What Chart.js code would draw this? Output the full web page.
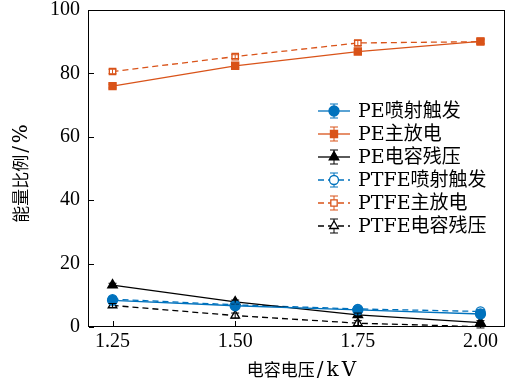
<!DOCTYPE html>
<html>
<head>
<meta charset="utf-8">
<script src="https://cdn.jsdelivr.net/npm/chart.js@4.4.1/dist/chart.umd.min.js"></script>
<style>
  body { margin: 0; background: #fff; }
  #wrap { width: 506px; height: 385px; }
</style>
</head>
<body>
<div id="wrap"><canvas id="grafico" width="506" height="385"></canvas></div>
<script>
// voltages on the x axis
const voltages = [1.25, 1.50, 1.75, 2.00];
const xTicks = [1.25, 1.50, 1.75, 2.00];

// energy shares (%) and their error half-widths
const pePenetracao = [8.4, 6.7, 5.4, 4.1];
const pePenetracaoErr = [0.6, 0.5, 0.5, 0.5];
const peDescarga = [76.0, 82.4, 86.9, 90.1];
const peDescargaErr = [0.6, 0.6, 0.6, 0.8];
const peResidual = [13.2, 7.9, 3.8, 1.4];
const peResidualErr = [0.6, 0.6, 0.6, 0.6];
const ptfePenetracao = [8.8, 7.0, 5.7, 4.9];
const ptfePenetracaoErr = [0.6, 0.5, 0.5, 0.6];
const ptfeDescarga = [80.6, 85.3, 89.6, 90.0];
const ptfeDescargaErr = [0.7, 0.6, 0.8, 0.6];
const ptfeResidual = [6.8, 3.6, 1.2, 0.1];
const ptfeResidualErr = [0.6, 0.8, 0.8, 0.4];

// axis titles: chinese part + unit part
const tituloX = ['电容电压', '/kV'];
const tituloY = ['能量比例', '/%'];

const azul = '#0072BD';
const laranja = '#D95319';
const preto = '#000000';
const fonteSerif = "'Liberation Serif', 'Noto Sans CJK SC', serif";
const fonteLegenda = "'DejaVu Serif', 'Noto Sans CJK SC', serif";

function serie(label, valores, erros, cor, estilo, aberto, raio) {
    return {
        label: label,
        data: voltages.map((v, i) => ({ x: v, y: valores[i] })),
        erros: erros,
        borderColor: cor,
        backgroundColor: cor,
        borderWidth: 1.3,
        borderDash: aberto ? [6, 4] : [],
        pointStyle: estilo,
        pointRadius: raio,
        pointBorderColor: cor,
        pointBackgroundColor: aberto ? '#ffffff' : cor,
        pointBorderWidth: 1.3,
        tension: 0
    };
}

const datasets = [
    serie('PE喷射触发', pePenetracao, pePenetracaoErr, azul, 'circle', false, 5),
    serie('PE主放电', peDescarga, peDescargaErr, laranja, 'rect', false, 5),
    serie('PE电容残压', peResidual, peResidualErr, preto, 'triangle', false, 5.5),
    serie('PTFE喷射触发', ptfePenetracao, ptfePenetracaoErr, azul, 'circle', true, 4.5),
    serie('PTFE主放电', ptfeDescarga, ptfeDescargaErr, laranja, 'rect', true, 4.5),
    serie('PTFE电容残压', ptfeResidual, ptfeResidualErr, preto, 'triangle', true, 5)
];

// error bars with caps
const barrasErro = {
    id: 'barrasErro',
    afterDatasetsDraw(chart) {
        const ctx = chart.ctx;
        const xs = chart.scales.x, ys = chart.scales.y;
        ctx.save();
        chart.data.datasets.forEach(ds => {
            ctx.strokeStyle = ds.borderColor;
            ctx.lineWidth = 1;
            ctx.setLineDash([]);
            ds.data.forEach((p, i) => {
                const e = ds.erros[i];
                const px = xs.getPixelForValue(p.x);
                const y1 = ys.getPixelForValue(p.y - e);
                const y2 = ys.getPixelForValue(p.y + e);
                ctx.beginPath();
                ctx.moveTo(px, y1); ctx.lineTo(px, y2);
                ctx.moveTo(px - 4, y1); ctx.lineTo(px + 4, y1);
                ctx.moveTo(px - 4, y2); ctx.lineTo(px + 4, y2);
                ctx.stroke();
            });
        });
        ctx.restore();
    }
};

// title drawn as two runs: CJK text, then the unit in serif with a bit of spacing
function desenhaTitulo(ctx, partes, cx, baseline) {
    ctx.font = '17px ' + fonteLegenda;
    const w1 = ctx.measureText(partes[0]).width;
    ctx.font = '20px ' + fonteLegenda;
    ctx.letterSpacing = '3px';
    const w2 = ctx.measureText(partes[1]).width;
    let x = cx - (w1 + 2 + w2) / 2;
    ctx.textAlign = 'left';
    ctx.textBaseline = 'alphabetic';
    ctx.fillText(partes[1], x + w1 + 2, baseline);
    ctx.letterSpacing = '0px';
    ctx.font = '17px ' + fonteLegenda;
    ctx.fillText(partes[0], x, baseline);
}

// frame, inward ticks, axis titles and the legend box
const moldura = {
    id: 'moldura',
    afterDraw(chart) {
        const ctx = chart.ctx;
        const a = chart.chartArea;
        const xs = chart.scales.x, ys = chart.scales.y;
        const l = Math.round(a.left), r = Math.round(a.right);
        const t = Math.round(a.top), b = Math.round(a.bottom);
        ctx.save();
        ctx.fillStyle = '#000';
        ctx.fillRect(l, t, r - l, 1);
        ctx.fillRect(l, b - 1, r - l, 1);
        ctx.fillRect(l, t, 1, b - t);
        ctx.fillRect(r - 1, t, 1, b - t);
        xTicks.forEach(v => {
            const px = Math.round(xs.getPixelForValue(v));
            ctx.fillRect(px, b - 6, 1, 5);
        });
        ys.ticks.forEach(tk => {
            const py = Math.round(ys.getPixelForValue(tk.value));
            ctx.fillRect(l + 1, py, 5, 1);
        });

        // axis titles
        desenhaTitulo(ctx, tituloX, 303, 376);
        ctx.save();
        ctx.translate(27, 172);
        ctx.rotate(-Math.PI / 2);
        desenhaTitulo(ctx, tituloY, 0, 0);
        ctx.restore();

        // legend
        const x0 = 318, x1 = 350, xm = 334, xt = 358;
        let y = 111;
        ctx.font = '19px ' + fonteLegenda;
        ctx.textAlign = 'left';
        ctx.textBaseline = 'middle';
        chart.data.datasets.forEach(ds => {
            ctx.strokeStyle = ds.borderColor;
            ctx.lineWidth = 1.3;
            ctx.setLineDash(ds.borderDash);
            ctx.beginPath();
            ctx.moveTo(x0, y); ctx.lineTo(x1, y);
            ctx.stroke();
            ctx.setLineDash([]);
            ctx.lineWidth = 1;
            ctx.beginPath();
            ctx.moveTo(xm, y - 7); ctx.lineTo(xm, y + 7);
            ctx.moveTo(xm - 4, y - 7); ctx.lineTo(xm + 4, y - 7);
            ctx.moveTo(xm - 4, y + 7); ctx.lineTo(xm + 4, y + 7);
            ctx.stroke();
            ctx.fillStyle = ds.pointBackgroundColor;
            ctx.strokeStyle = ds.pointBorderColor;
            ctx.lineWidth = ds.pointBorderWidth;
            Chart.helpers.drawPoint(ctx, {
                pointStyle: ds.pointStyle, radius: ds.pointRadius, rotation: 0, borderWidth: ds.pointBorderWidth
            }, xm, y);
            ctx.fillStyle = '#000';
            ctx.fillText(ds.label, xt, y + 1);
            y += 23;
        });
        ctx.restore();
    }
};

const config = {
    type: 'line',
    data: { datasets: datasets },
    options: {
        responsive: false,
        animation: false,
        layout: { autoPadding: false, padding: { top: 10, right: 1, left: 0, bottom: 0 } },
        plugins: { legend: { display: false }, tooltip: { enabled: false } },
        scales: {
            x: {
                type: 'linear',
                min: 1.2,
                max: 2.05,
                afterBuildTicks: scale => { scale.ticks = xTicks.map(v => ({ value: v })); },
                afterFit: scale => {
                    scale.height = 58;
                    scale.paddingLeft = 0;
                    scale.paddingRight = 0;
                },
                grid: { display: false, drawTicks: false },
                border: { display: false },
                ticks: {
                    color: '#000',
                    padding: 3,
                    font: { family: fonteSerif, size: 20 },
                    callback: v => Number(v).toFixed(2)
                }
            },
            y: {
                min: 0,
                max: 100,
                afterFit: scale => {
                    scale.width = 88;
                    scale.paddingTop = 0;
                    scale.paddingBottom = 0;
                },
                grid: { display: false, drawTicks: false },
                border: { display: false },
                ticks: {
                    stepSize: 20,
                    color: '#000',
                    padding: 8,
                    font: { family: fonteSerif, size: 20 }
                }
            }
        }
    },
    plugins: [barrasErro, moldura]
};

new Chart(document.getElementById('grafico'), config);
</script>
</body>
</html>
